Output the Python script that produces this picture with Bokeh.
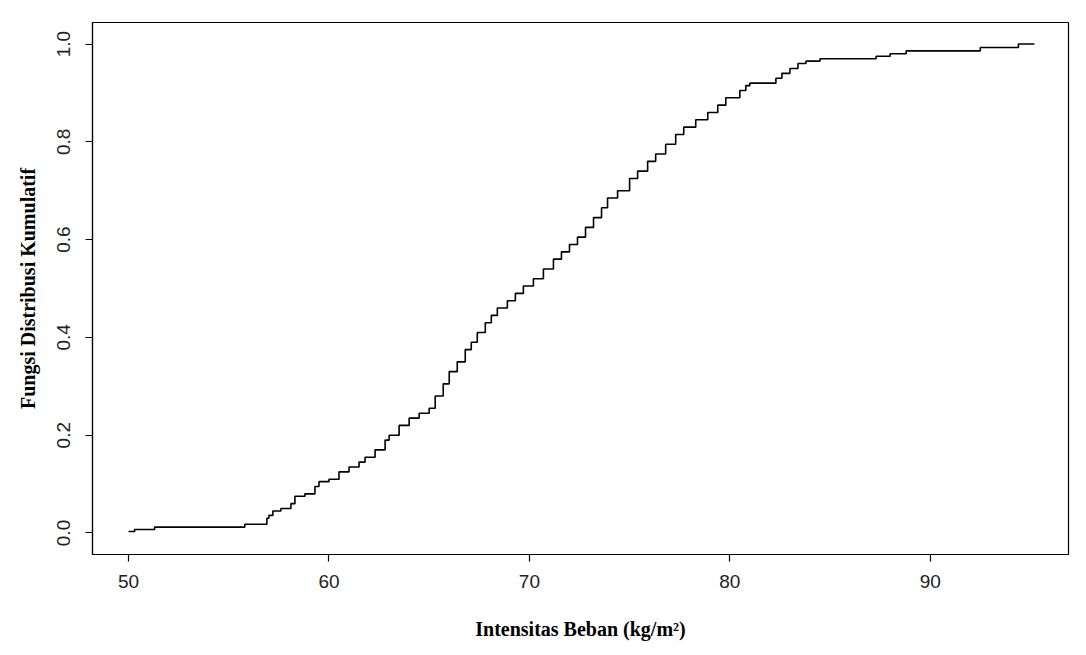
from bokeh.plotting import figure
from bokeh.models import FixedTicker, Range1d, NumeralTickFormatter
from bokeh.embed import file_html
from bokeh.resources import INLINE

load_kgm2 = [50.0, 50.3, 51.3, 55.8, 56.9, 57.0, 57.2, 57.6, 58.1, 58.3, 58.8,
             59.3, 59.5, 60.0, 60.5, 61.0, 61.5, 61.8, 62.3, 62.8, 63.0, 63.5,
             64.0, 64.5, 65.0, 65.3, 65.7, 66.0, 66.4, 66.8, 67.1, 67.4, 67.8,
             68.1, 68.4, 68.9, 69.3, 69.7, 70.2, 70.7, 71.2, 71.6, 72.0, 72.4,
             72.8, 73.2, 73.6, 73.9, 74.4, 75.0, 75.4, 75.9, 76.3, 76.8, 77.3,
             77.7, 78.3, 78.9, 79.4, 79.8, 80.5, 80.8, 81.0, 82.3, 82.6, 83.0,
             83.4, 83.8, 84.5, 87.3, 88.0, 88.8, 92.5, 94.4, 95.2]
cum_prob = [0.003, 0.007, 0.012, 0.018, 0.030, 0.036, 0.045, 0.050, 0.060, 0.075, 0.080,
            0.095, 0.105, 0.110, 0.125, 0.135, 0.145, 0.155, 0.170, 0.190, 0.200, 0.220,
            0.235, 0.245, 0.255, 0.280, 0.305, 0.330, 0.350, 0.375, 0.390, 0.410, 0.430,
            0.445, 0.460, 0.475, 0.490, 0.505, 0.520, 0.540, 0.560, 0.575, 0.590, 0.605,
            0.625, 0.645, 0.665, 0.685, 0.700, 0.725, 0.740, 0.760, 0.775, 0.795, 0.815,
            0.830, 0.845, 0.860, 0.875, 0.890, 0.905, 0.915, 0.920, 0.930, 0.940, 0.950,
            0.960, 0.965, 0.970, 0.975, 0.980, 0.986, 0.993, 1.000, 1.000]

x_ticks = [50, 60, 70, 80, 90]
y_ticks = [0.0, 0.2, 0.4, 0.6, 0.8, 1.0]

p = figure(width=1075, height=642, output_backend="svg", toolbar_location=None,
           x_range=Range1d(48.2, 96.9), y_range=Range1d(-0.044, 1.044),
           min_border_left=92, min_border_right=7, min_border_top=22, min_border_bottom=87)

p.step(load_kgm2, cum_prob, mode="after", line_color="black", line_width=1.6)

p.grid.visible = False
p.outline_line_color = "black"
p.outline_line_width = 1.2
p.background_fill_color = "white"
p.border_fill_color = "white"

p.xaxis.ticker = FixedTicker(ticks=x_ticks)
p.yaxis.ticker = FixedTicker(ticks=y_ticks)
p.yaxis.formatter = NumeralTickFormatter(format="0.0")

for ax in (p.xaxis[0], p.yaxis[0]):
    ax.axis_line_color = "black"
    ax.axis_line_width = 1.2
    ax.major_tick_line_color = "black"
    ax.major_tick_line_width = 1.2
    ax.major_tick_in = 0
    ax.major_tick_out = 7
    ax.minor_tick_line_color = None
    ax.major_label_text_font = "Liberation Sans"
    ax.major_label_text_font_size = "19px"
    ax.major_label_text_color = "#222222"
    ax.axis_label_text_font = "Liberation Serif"
    ax.axis_label_text_font_style = "bold"
    ax.axis_label_text_font_size = "20px"
    ax.axis_label_text_color = "black"

p.xaxis.axis_label = "Intensitas Beban (kg/m²)"
p.yaxis.axis_label = "Fungsi Distribusi Kumulatif"
p.xaxis.major_label_standoff = 13
p.yaxis.major_label_standoff = 15
p.yaxis.major_label_orientation = "vertical"
p.xaxis.axis_label_standoff = 27
p.yaxis.axis_label_standoff = 16

open("out.html", "w").write(file_html(p, INLINE))
